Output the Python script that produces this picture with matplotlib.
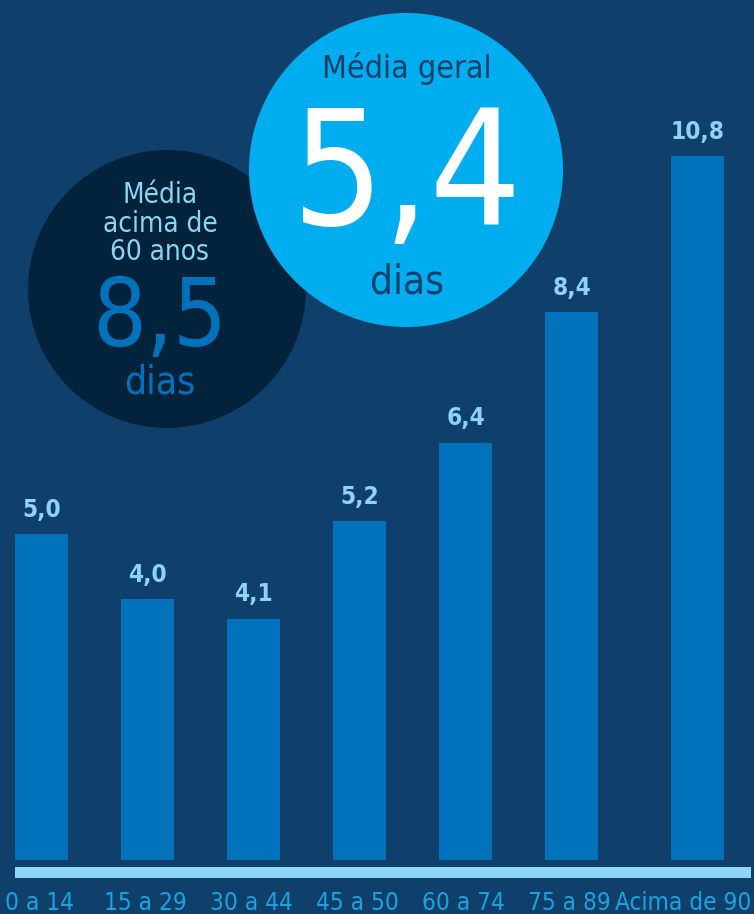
import matplotlib
matplotlib.use("Agg")
import matplotlib.pyplot as plt
from matplotlib import font_manager
from matplotlib.font_manager import FontProperties
from matplotlib.patches import Circle, Rectangle

# ---- data ----
categories = ["0 a 14", "15 a 29", "30 a 44", "45 a 50", "60 a 74", "75 a 89", "Acima de 90"]
value_labels = ["5,0", "4,0", "4,1", "5,2", "6,4", "8,4", "10,8"]
bar_heights = [5.0, 4.0, 3.7, 5.2, 6.4, 8.4, 10.8]   # heights as drawn in the picture
media_geral = "5,4"
media_60 = "8,5"

# ---- style ----
BG = "#0f406b"
BAR = "#0071bb"
STRIPE = "#8dd6f7"
VAL = "#8ed3f4"
CAT = "#1aa3e0"
BIG = "#00adef"
DARK = "#03233c"

# find a condensed sans font if any
cond_reg, cond_bold = None, None
for f in font_manager.fontManager.ttflist:
    fn = f.fname.lower()
    if ("condensed" in fn or "narrow" in fn) and "serif" not in f.name.lower() and "mono" not in f.name.lower() \
            and "italic" not in fn and "oblique" not in fn:
        w = f.weight if isinstance(f.weight, int) else (700 if "bold" in str(f.weight) else 400)
        if w >= 600 and cond_bold is None:
            cond_bold = f.fname
        elif w < 600 and cond_reg is None and "light" not in fn and "thin" not in fn:
            cond_reg = f.fname

if cond_reg:
    FP = lambda size: FontProperties(fname=cond_reg, size=size)
else:
    FP = lambda size: FontProperties(family="Liberation Sans", size=size)
if cond_bold:
    FPB = lambda size: FontProperties(fname=cond_bold, size=size)
else:
    FPB = lambda size: FontProperties(family="Liberation Sans", weight="bold", size=size * 0.92)

W, H = 754, 914
fig = plt.figure(figsize=(W / 100, H / 100), dpi=100, facecolor=BG)

ax = fig.add_axes([0, 0, 1, 1])
ax.set_facecolor(BG)
positions = [0, 1, 2, 3, 4, 5, 6.184]
px_x = 106.0
px_y = 65.2
ax.set_xlim(-41.5 / px_x, (W - 41.5) / px_x)
ax.set_ylim(-54 / px_y, (H - 54) / px_y)
ax.axis("off")

ax.bar(positions, bar_heights, width=0.5, color=BAR, zorder=2)
for x, h, lab in zip(positions, bar_heights, value_labels):
    ax.annotate(lab, (x, h), xytext=(0, 17.5), textcoords="offset points",
                ha="center", va="center", color=VAL, fontproperties=FPB(17.5), zorder=5)

# overlay in pixel coordinates for the decorative elements
ov = fig.add_axes([0, 0, 1, 1], facecolor="none")
ov.set_xlim(0, W)
ov.set_ylim(H, 0)
ov.axis("off")

ov.add_patch(Rectangle((15, 867), 736, 11, color=STRIPE, lw=0))
for i, (x, lab) in enumerate(zip(positions, categories)):
    xp = 41.5 + x * px_x
    if i == len(categories) - 1:
        ov.text(751, 910, lab, ha="right", va="baseline", color=CAT, fontproperties=FP(17.5))
    else:
        ov.text(xp - 2, 910, lab, ha="center", va="baseline", color=CAT, fontproperties=FP(17.5))

ov.add_patch(Circle((167, 289), 139, color=DARK, lw=0, zorder=1))
ov.add_patch(Circle((406, 170), 157, color=BIG, lw=0, zorder=2))

ov.text(160, 203, "Média", ha="center", va="baseline", color=VAL, fontproperties=FP(20), zorder=3)
ov.text(160, 232, "acima de", ha="center", va="baseline", color=VAL, fontproperties=FP(20), zorder=3)
ov.text(160, 260, "60 anos", ha="center", va="baseline", color=VAL, fontproperties=FP(20), zorder=3)
ov.text(160, 346, media_60, ha="center", va="baseline", color=BAR, fontproperties=FP(68), zorder=3)
ov.text(160, 393, "dias", ha="center", va="baseline", color=BAR, fontproperties=FP(28), zorder=3)

ov.text(407, 78, "Média geral", ha="center", va="baseline", color="#0f3f6b", fontproperties=FP(23), zorder=3)
ov.text(407, 225, media_geral, ha="center", va="baseline", color="white", fontproperties=FP(116), zorder=3)
ov.text(407, 293, "dias", ha="center", va="baseline", color="#0f3f6b", fontproperties=FP(29), zorder=3)

fig.savefig("out.png", dpi=100, facecolor=BG)
